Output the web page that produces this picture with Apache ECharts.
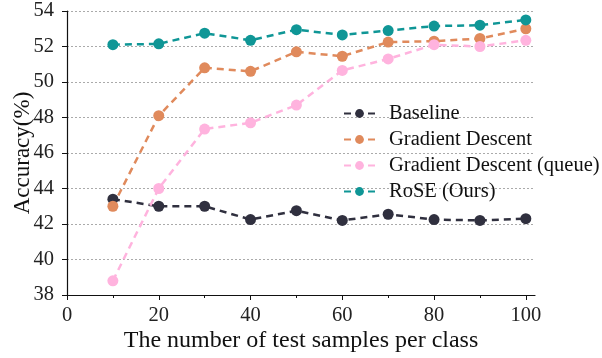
<!DOCTYPE html>
<html>
<head>
<meta charset="utf-8">
<script src="https://cdn.jsdelivr.net/npm/echarts@6/dist/echarts.min.js"></script>
<style>
  html, body { margin: 0; padding: 0; background: #fff; }
  #chart { width: 602px; height: 358px; }
</style>
</head>
<body>
<div id="chart"></div>
<script>
// 每类测试样本数
const samples = [10, 20, 30, 40, 50, 60, 70, 80, 90, 100];

// 各方法准确率 (%)
const baseline = [43.4, 43.0, 43.0, 42.25, 42.75, 42.2, 42.55, 42.25, 42.2, 42.3];
const gradientDescent = [43.0, 48.1, 50.8, 50.6, 51.7, 51.45, 52.25, 52.3, 52.45, 53.0];
const gradientDescentQueue = [38.8, 44.0, 47.35, 47.7, 48.7, 50.65, 51.3, 52.1, 52.0, 52.35];
const rose = [52.1, 52.15, 52.75, 52.35, 52.95, 52.65, 52.9, 53.15, 53.2, 53.5];

const xMajorTicks = [0, 20, 40, 60, 80, 100];
const xMinorTicks = [10, 30, 50, 70, 90];

const FONT = 'Liberation Serif';

function pairs(ys) {
  return samples.map((x, i) => [x, ys[i]]);
}

function lineSeries(name, ys, color) {
  return {
    name: name,
    type: 'line',
    data: pairs(ys),
    symbol: 'circle',
    symbolSize: 11,
    lineStyle: { color: color, width: 2.5, type: [7, 5] },
    itemStyle: { color: color },
    emphasis: { disabled: true },
    animation: false
  };
}

const chart = echarts.init(document.getElementById('chart'), null, { renderer: 'canvas' });

chart.setOption({
  backgroundColor: '#fff',
  animation: false,
  grid: { left: 67, right: 67, top: 11, bottom: 63, containLabel: false, outerBoundsMode: 'none' },
  legend: {
    left: 343,
    top: 103,
    padding: 0,
    orient: 'vertical',
    itemWidth: 31,
    itemHeight: 11,
    itemGap: 5,
    textStyle: { fontFamily: FONT, fontSize: 20.5, color: '#111', padding: [0, 0, 0, 9] },
    data: ['Baseline', 'Gradient Descent', 'Gradient Descent (queue)', 'RoSE (Ours)']
  },
  xAxis: [{
    type: 'value',
    min: 0,
    max: 102,
    name: 'The number of test samples per class',
    nameLocation: 'middle',
    nameGap: 34,
    nameMoveOverlap: false,
    nameTextStyle: { fontFamily: FONT, fontSize: 24, color: '#111' },
    axisLine: { lineStyle: { color: '#111', width: 1.2 } },
    axisTick: { customValues: xMajorTicks, length: 5, lineStyle: { color: '#111' } },
    axisLabel: { customValues: xMajorTicks, fontFamily: FONT, fontSize: 20.5, color: '#222', margin: 10 },
    splitLine: { show: false }
  }, {
    type: 'value',
    min: 0,
    max: 102,
    position: 'bottom',
    axisLine: { show: false },
    axisTick: { customValues: xMinorTicks, length: 3, lineStyle: { color: '#111' } },
    axisLabel: { show: false },
    splitLine: { show: false }
  }],
  yAxis: {
    type: 'value',
    min: 38,
    max: 54,
    interval: 2,
    name: 'Accuracy(%)',
    nameLocation: 'middle',
    nameGap: 33,
    nameMoveOverlap: false,
    nameTextStyle: { fontFamily: FONT, fontSize: 23, color: '#111' },
    axisLine: { show: true, lineStyle: { color: '#111', width: 1.2 } },
    axisTick: { show: true, length: 5, lineStyle: { color: '#111' } },
    axisLabel: { fontFamily: FONT, fontSize: 20.5, color: '#222', margin: 13 },
    splitLine: { show: true, lineStyle: { color: '#aaa', type: [2, 2], width: 1 } }
  },
  series: [
    lineSeries('Baseline', baseline, '#30303f'),
    lineSeries('Gradient Descent', gradientDescent, '#e08a5c'),
    lineSeries('Gradient Descent (queue)', gradientDescentQueue, '#ffb3de'),
    lineSeries('RoSE (Ours)', rose, '#0f9696')
  ]
});
</script>
</body>
</html>
